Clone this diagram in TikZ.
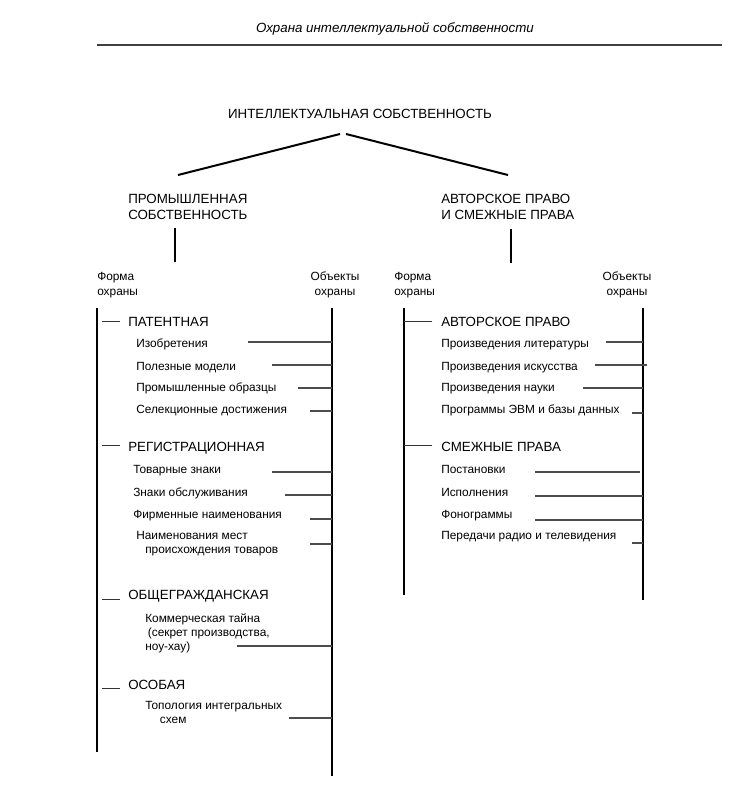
\documentclass[tikz,border=0pt]{standalone}
\usepackage{fontspec}
\setmainfont{Liberation Sans}
\usetikzlibrary{positioning}
\tikzset{
    head/.style = {
        font = \fontsize{10}{12}\selectfont,
        anchor = base west,
        inner sep = 0pt,
        align = left,
    },
    item/.style = {
        font = \fontsize{8.9}{10.5}\selectfont,
        anchor = base west,
        inner sep = 0pt,
        align = left,
    },
    tree/.style = {line width=1.5pt},
    bar/.style = {line width=1.6pt},
    tick/.style = {line width=0.8pt, draw=black!80},
    link/.style = {line width=0.9pt, draw=black!70},
}

\begin{document}
\begin{tikzpicture}[x=0.75pt,y=-0.75pt]
    \useasboundingbox (0,0) rectangle (741,799);

    \node[anchor=base,inner sep=0pt,font=\fontsize{10}{12}\selectfont\itshape] (Title) at (395,33) {Охрана интеллектуальной собственности};
    \coordinate (RuleL) at (97,45);
    \coordinate (RuleR) at (722,45);
    \draw[line width=1.1pt,draw=black!75] (RuleL) -- (RuleR);

    \node[head,anchor=base] (IP) at (360,118) {ИНТЕЛЛЕКТУАЛЬНАЯ СОБСТВЕННОСТЬ};
    \node[head] (IndProp) at (128,219) {ПРОМЫШЛЕННАЯ\\СОБСТВЕННОСТЬ};
    \node[head] (Copyright) at (441,219) {АВТОРСКОЕ ПРАВО\\И СМЕЖНЫЕ ПРАВА};

    \coordinate (ForkTopL) at (340,134);
    \coordinate (ForkTopR) at (346,134);
    \coordinate (ForkL) at (178,175);
    \coordinate (ForkR) at (508,175);
    \coordinate (StemLtop) at (175,228);
    \coordinate (StemLbot) at (175,262);
    \coordinate (StemRtop) at (511,229);
    \coordinate (StemRbot) at (511,263);
    \draw[tree] (ForkTopL) -- (ForkL);
    \draw[tree] (ForkTopR) -- (ForkR);
    \draw[tree] (StemLtop) -- (StemLbot);
    \draw[tree] (StemRtop) -- (StemRbot);

    % column heads
    \node[item,font=\fontsize{8.9}{11.25}\selectfont] (FormL) at (97,295) {Форма\\охраны};
    \node[item,font=\fontsize{8.9}{11.25}\selectfont,align=center,anchor=base] (ObjL) at (335,295) {Объекты\\охраны};
    \node[item,font=\fontsize{8.9}{11.25}\selectfont] (FormR) at (394,295) {Форма\\охраны};
    \node[item,font=\fontsize{8.9}{11.25}\selectfont,align=center,anchor=base] (ObjR) at (627,295) {Объекты\\охраны};

    % bars
    \coordinate (BarFormLtop) at (97,308);
    \coordinate (BarFormLbot) at (97,752);
    \coordinate (BarObjLtop) at (332,308);
    \coordinate (BarObjLbot) at (332,776);
    \coordinate (BarFormRtop) at (404,308);
    \coordinate (BarFormRbot) at (404,595);
    \coordinate (BarObjRtop) at (643,308);
    \coordinate (BarObjRbot) at (643,600);
    \draw[bar] (BarFormLtop) -- (BarFormLbot);
    \draw[bar] (BarObjLtop) -- (BarObjLbot);
    \draw[bar] (BarFormRtop) -- (BarFormRbot);
    \draw[bar] (BarObjRtop) -- (BarObjRbot);

    % industrial property
    \node[head] (Patent) at (128,326) {ПАТЕНТНАЯ};
    \node[item] (Inv) at (136,347) {Изобретения};
    \node[item] (Util) at (136,370) {Полезные модели};
    \node[item] (Design) at (136,391) {Промышленные образцы};
    \node[item] (Breed) at (136,413) {Селекционные достижения};
    \node[head] (Reg) at (128,451) {РЕГИСТРАЦИОННАЯ};
    \node[item] (TM) at (133,473) {Товарные знаки};
    \node[item] (SM) at (133,496) {Знаки обслуживания};
    \node[item] (Firm) at (133,518) {Фирменные наименования};
    \node[item] (Origin) at (136,553) {Наименования мест\\\hspace*{6.75pt}происхождения товаров};
    \node[head] (Civil) at (128,599) {ОБЩЕГРАЖДАНСКАЯ};
    \node[item] (Secret) at (145,650) {Коммерческая тайна\\\hspace*{2pt}(секрет производства,\\ноу-хау)};
    \node[head] (Special) at (128,689) {ОСОБАЯ};
    \node[item] (Topo) at (145,723) {Топология интегральных\\\hspace*{11pt}схем};

    \draw[tick] ([xshift=-6pt]Patent.west) -- ++(-18,0);
    \draw[tick] ([xshift=-6pt,yshift=1.5pt]Reg.west) -- ++(-18,0);
    \draw[tick] ([xshift=-6pt,yshift=-3pt]Civil.west) -- ++(-18,0);
    \draw[tick] ([xshift=-6pt,yshift=-3pt]Special.west) -- ++(-18,0);

    \coordinate (InvL) at (248,342);
    \coordinate (UtilL) at (272,365);
    \coordinate (DesignL) at (298,388);
    \coordinate (BreedL) at (310,411);
    \coordinate (TML) at (272,472);
    \coordinate (SML) at (285,495);
    \coordinate (FirmL) at (310,519);
    \coordinate (OriginL) at (310,544);
    \coordinate (SecretL) at (237,646);
    \coordinate (TopoL) at (289,718);
    \draw[link] (InvL) -- (InvL -| BarObjLtop);
    \draw[link] (UtilL) -- (UtilL -| BarObjLtop);
    \draw[link] (DesignL) -- (DesignL -| BarObjLtop);
    \draw[link] (BreedL) -- (BreedL -| BarObjLtop);
    \draw[link] (TML) -- (TML -| BarObjLtop);
    \draw[link] (SML) -- (SML -| BarObjLtop);
    \draw[link] (FirmL) -- (FirmL -| BarObjLtop);
    \draw[link] (OriginL) -- (OriginL -| BarObjLtop);
    \draw[link] (SecretL) -- (SecretL -| BarObjLtop);
    \draw[link] (TopoL) -- (TopoL -| BarObjLtop);

    % copyright and related rights
    \node[head] (Author) at (441,326) {АВТОРСКОЕ ПРАВО};
    \node[item] (Lit) at (441,347) {Произведения литературы};
    \node[item] (ArtW) at (441,370) {Произведения искусства};
    \node[item] (Sci) at (441,391) {Произведения науки};
    \node[item] (Prog) at (441,413) {Программы ЭВМ и базы данных};
    \node[head] (Rel) at (441,451) {СМЕЖНЫЕ ПРАВА};
    \node[item] (Stage) at (441,473) {Постановки};
    \node[item] (Perf) at (441,496) {Исполнения};
    \node[item] (Phono) at (441,518) {Фонограммы};
    \node[item] (Broad) at (441,539) {Передачи радио и телевидения};

    \draw[tick] ([xshift=-6.5pt]Author.west) -- (Author.west -| BarFormRtop);
    \draw[tick] ([xshift=-6.5pt,yshift=0.75pt]Rel.west) -- ([yshift=0.75pt]Rel.west -| BarFormRtop);

    \coordinate (LitL) at (606,342);
    \coordinate (ArtWL) at (595,365);
    \coordinate (SciL) at (583,388);
    \coordinate (ProgL) at (632,413);
    \coordinate (StageL) at (535,472);
    \coordinate (PerfL) at (535,496);
    \coordinate (PhonoL) at (535,520);
    \coordinate (BroadL) at (632,543);
    \draw[link] (LitL) -- (LitL -| BarObjRtop);
    \draw[link] (ArtWL) -- ([xshift=3pt]ArtWL -| BarObjRtop);
    \draw[link] (SciL) -- (SciL -| BarObjRtop);
    \draw[link] (ProgL) -- (ProgL -| BarObjRtop);
    \draw[link] (StageL) -- ([xshift=-2pt]StageL -| BarObjRtop);
    \draw[link] (PerfL) -- (PerfL -| BarObjRtop);
    \draw[link] (PhonoL) -- (PhonoL -| BarObjRtop);
    \draw[link] (BroadL) -- (BroadL -| BarObjRtop);

\end{tikzpicture}
\end{document}
